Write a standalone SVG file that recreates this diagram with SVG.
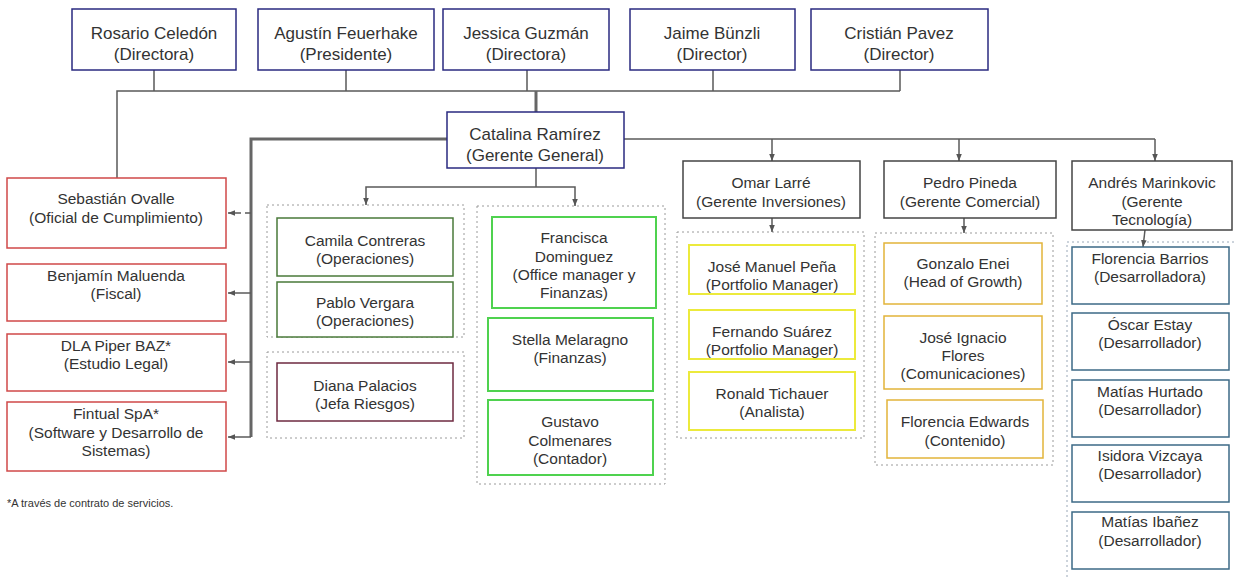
<svg xmlns="http://www.w3.org/2000/svg" width="1234" height="579" viewBox="0 0 1234 579">
<style>
text{font-family:"Liberation Sans",Arial,sans-serif;fill:#333;text-anchor:middle}
.big{font-size:17px}
.sm{font-size:15.5px}
.foot{font-size:11px;text-anchor:start}
rect{fill:#fff;stroke-width:1.5}
.navy{stroke:#2a2a80}
.mgr{stroke:#444}
.red{stroke:#d04848}
.ops{stroke:#4a7a3a}
.risk{stroke:#6e2a40}
.fin{stroke:#4fd24f;stroke-width:2}
.inv{stroke:#ecea3c;stroke-width:2}
.com{stroke:#e2b43a}
.dev{stroke:#3d6a86}
.grp{fill:none;stroke:#9a9a9a;stroke-width:1;stroke-dasharray:2 3}
.grpdev{fill:none;stroke:#9aa8b8;stroke-width:1;stroke-dasharray:2 3}
.ln{fill:none;stroke:#5a5a5a;stroke-width:1.5}
.thick{fill:none;stroke:#666;stroke-width:3}
</style>
<defs>
<marker id="ah" viewBox="0 0 10 10" refX="10" refY="5" markerWidth="7" markerHeight="7" markerUnits="userSpaceOnUse" orient="auto"><path d="M0,1 L10,5 L0,9z" fill="#555"/></marker>
</defs>

<g id="containers">
<rect class="grp" x="267" y="205" width="197" height="132"/>
<rect class="grp" x="267" y="352" width="197" height="86"/>
<rect class="grp" x="477" y="206" width="188" height="278"/>
<rect class="grp" x="677" y="232" width="187" height="206"/>
<rect class="grp" x="875" y="233" width="178" height="232"/>
<rect class="grpdev" x="1067" y="242" width="180" height="350"/>
</g>

<g id="connectors">
<path class="ln" d="M117,178 V91 H900"/>
<path class="ln" d="M154,70 V91 M346,70 V91 M527,70 V91 M713,70 V91 M900,70 V91"/>
<path class="thick" d="M536,91 V112"/>
<path class="thick" d="M447,139 H251 V437"/>
<path class="ln" d="M251,213 H228" stroke-dasharray="6 4" marker-end="url(#ah)"/>
<path class="ln" d="M251,293 H228" marker-end="url(#ah)"/>
<path class="ln" d="M251,362 H228" marker-end="url(#ah)"/>
<path class="ln" d="M251,437 H228" marker-end="url(#ah)"/>
<path class="ln" d="M624,139 H1155"/>
<path class="ln" d="M772,139 V161" marker-end="url(#ah)"/>
<path class="ln" d="M959,139 V161" marker-end="url(#ah)"/>
<path class="ln" d="M1155,139 V161" marker-end="url(#ah)"/>
<path class="ln" d="M536,168 V187"/>
<path class="ln" d="M536,187 H366 V205" marker-end="url(#ah)"/>
<path class="ln" d="M536,187 H575 V206" marker-end="url(#ah)"/>
<path class="ln" d="M772,218 V232" marker-end="url(#ah)"/>
<path class="ln" d="M964,210 V233" marker-end="url(#ah)"/>
<path class="ln" d="M1147,213 L1143,247" marker-end="url(#ah)"/>
</g>

<g id="rosario"><rect class="navy" x="72" y="9" width="164" height="61"/><text class="big" x="154" y="39">Rosario Celedón</text><text class="big" x="154" y="60">(Directora)</text></g>
<g id="agustin"><rect class="navy" x="258" y="9" width="176" height="61"/><text class="big" x="346" y="39">Agustín Feuerhake</text><text class="big" x="346" y="60">(Presidente)</text></g>
<g id="jessica"><rect class="navy" x="443" y="9" width="166" height="61"/><text class="big" x="526" y="39">Jessica Guzmán</text><text class="big" x="526" y="60">(Directora)</text></g>
<g id="jaime"><rect class="navy" x="630" y="9" width="165" height="61"/><text class="big" x="712" y="39">Jaime Bünzli</text><text class="big" x="712" y="60">(Director)</text></g>
<g id="cristian"><rect class="navy" x="811" y="9" width="177" height="61"/><text class="big" x="899" y="39">Cristián Pavez</text><text class="big" x="899" y="60">(Director)</text></g>

<g id="catalina"><rect class="navy" x="447" y="112" width="177" height="56"/><text class="big" x="535" y="140">Catalina Ramírez</text><text class="big" x="535" y="161">(Gerente General)</text></g>

<g id="sebastian"><rect class="red" x="7" y="178" width="219" height="70"/><text class="sm" x="116" y="204">Sebastián Ovalle</text><text class="sm" x="116" y="223">(Oficial de Cumplimiento)</text></g>
<g id="benjamin"><rect class="red" x="7" y="264" width="219" height="57"/><text class="sm" x="116" y="281">Benjamín Maluenda</text><text class="sm" x="116" y="299">(Fiscal)</text></g>
<g id="dla"><rect class="red" x="7" y="334" width="219" height="57"/><text class="sm" x="116" y="351">DLA Piper BAZ*</text><text class="sm" x="116" y="369">(Estudio Legal)</text></g>
<g id="fintual"><rect class="red" x="7" y="402" width="219" height="69"/><text class="sm" x="116" y="419">Fintual SpA*</text><text class="sm" x="116" y="438">(Software y Desarrollo de</text><text class="sm" x="116" y="456">Sistemas)</text></g>

<g id="camila"><rect class="ops" x="277" y="218" width="176" height="58"/><text class="sm" x="365" y="246">Camila Contreras</text><text class="sm" x="365" y="264">(Operaciones)</text></g>
<g id="pablo"><rect class="ops" x="277" y="282" width="176" height="55"/><text class="sm" x="365" y="308">Pablo Vergara</text><text class="sm" x="365" y="326">(Operaciones)</text></g>
<g id="diana"><rect class="risk" x="277" y="363" width="176" height="58"/><text class="sm" x="365" y="391">Diana Palacios</text><text class="sm" x="365" y="409">(Jefa Riesgos)</text></g>

<g id="francisca"><rect class="fin" x="492" y="217" width="164" height="91"/><text class="sm" x="574" y="243">Francisca</text><text class="sm" x="574" y="262">Dominguez</text><text class="sm" x="574" y="280">(Office manager y</text><text class="sm" x="574" y="298">Finanzas)</text></g>
<g id="stella"><rect class="fin" x="488" y="318" width="165" height="73"/><text class="sm" x="570" y="345">Stella Melaragno</text><text class="sm" x="570" y="363">(Finanzas)</text></g>
<g id="gustavo"><rect class="fin" x="488" y="400" width="165" height="75"/><text class="sm" x="570" y="427">Gustavo</text><text class="sm" x="570" y="446">Colmenares</text><text class="sm" x="570" y="464">(Contador)</text></g>

<g id="omar"><rect class="mgr" x="683" y="161" width="177" height="57"/><text class="sm" x="771" y="188">Omar Larré</text><text class="sm" x="771" y="207">(Gerente Inversiones)</text></g>
<g id="pedro"><rect class="mgr" x="884" y="161" width="172" height="57"/><text class="sm" x="970" y="188">Pedro Pineda</text><text class="sm" x="970" y="207">(Gerente Comercial)</text></g>
<g id="andres"><rect class="mgr" x="1072" y="161" width="160" height="69"/><text class="sm" x="1152" y="188">Andrés Marinkovic</text><text class="sm" x="1152" y="207">(Gerente</text><text class="sm" x="1152" y="225">Tecnología)</text></g>

<g id="josemanuel"><rect class="inv" x="689" y="245" width="166" height="49"/><text class="sm" x="772" y="272">José Manuel Peña</text><text class="sm" x="772" y="290">(Portfolio Manager)</text></g>
<g id="fernando"><rect class="inv" x="689" y="310" width="166" height="49"/><text class="sm" x="772" y="337">Fernando Suárez</text><text class="sm" x="772" y="355">(Portfolio Manager)</text></g>
<g id="ronald"><rect class="inv" x="689" y="372" width="166" height="58"/><text class="sm" x="772" y="399">Ronald Tichauer</text><text class="sm" x="772" y="417">(Analista)</text></g>

<g id="gonzalo"><rect class="com" x="884" y="243" width="158" height="61"/><text class="sm" x="963" y="269">Gonzalo Enei</text><text class="sm" x="963" y="287">(Head of Growth)</text></g>
<g id="joseignacio"><rect class="com" x="884" y="316" width="158" height="73"/><text class="sm" x="963" y="343">José Ignacio</text><text class="sm" x="963" y="361">Flores</text><text class="sm" x="963" y="379">(Comunicaciones)</text></g>
<g id="florenciaedwards"><rect class="com" x="887" y="400" width="156" height="58"/><text class="sm" x="965" y="427">Florencia Edwards</text><text class="sm" x="965" y="446">(Contenido)</text></g>

<g id="florenciabarrios"><rect class="dev" x="1072" y="247" width="157" height="57"/><text class="sm" x="1150" y="264">Florencia Barrios</text><text class="sm" x="1150" y="282">(Desarrolladora)</text></g>
<g id="oscar"><rect class="dev" x="1072" y="313" width="157" height="57"/><text class="sm" x="1150" y="330">Óscar Estay</text><text class="sm" x="1150" y="348">(Desarrollador)</text></g>
<g id="matiashurtado"><rect class="dev" x="1072" y="380" width="157" height="57"/><text class="sm" x="1150" y="397">Matías Hurtado</text><text class="sm" x="1150" y="415">(Desarrollador)</text></g>
<g id="isidora"><rect class="dev" x="1072" y="445" width="157" height="57"/><text class="sm" x="1150" y="461">Isidora Vizcaya</text><text class="sm" x="1150" y="479">(Desarrollador)</text></g>
<g id="matiasibanez"><rect class="dev" x="1072" y="512" width="157" height="57"/><text class="sm" x="1150" y="527">Matías Ibañez</text><text class="sm" x="1150" y="546">(Desarrollador)</text></g>

<text class="foot" x="7" y="507">*A través de contrato de servicios.</text>
</svg>
